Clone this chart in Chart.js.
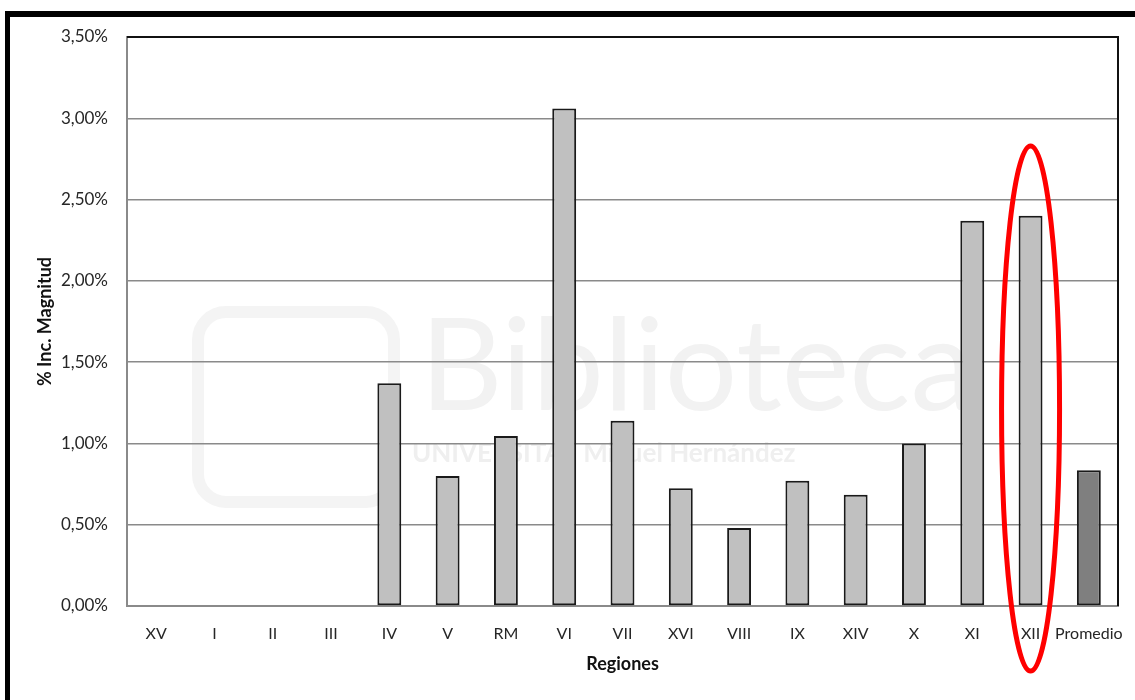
<!DOCTYPE html>
<html><head><meta charset="utf-8">
<script src="https://cdn.jsdelivr.net/npm/chart.js@4.4.1/dist/chart.umd.min.js"></script>
<style>html,body{margin:0;padding:0;background:#fff;}#wrap{width:1135px;height:700px;position:relative;}</style>
</head><body><div id="wrap"><canvas id="c" width="1135" height="700"></canvas></div>
<script>
const categories = ['XV','I','II','III','IV','V','RM','VI','VII','XVI','VIII','IX','XIV','X','XI','XII','Promedio'];
const incMagnitud = [0,0,0,0,1.37,0.80,1.045,3.06,1.14,0.725,0.48,0.77,0.685,1.0,2.37,2.40,0.835];
const barColors = ['#c0c0c0','#c0c0c0','#c0c0c0','#c0c0c0','#c0c0c0','#c0c0c0','#c0c0c0','#c0c0c0','#c0c0c0','#c0c0c0','#c0c0c0','#c0c0c0','#c0c0c0','#c0c0c0','#c0c0c0','#c0c0c0','#7f7f7f'];
const yMin = 0, yMax = 3.5, yStep = 0.5;
const highlightCategory = 'XII';
const highlightTop = 2.83, highlightBottom = -0.40;
const FONT = 'Lato, "Open Sans", sans-serif';

const decorPlugin = {
  id: 'decor',
  beforeDraw(chart) {
    const ctx = chart.ctx;
    ctx.save();
    ctx.fillStyle = '#fff';
    ctx.fillRect(0, 0, chart.width, chart.height);
    // faint watermark
    ctx.fillStyle = '#f2f2f2';
    ctx.font = '128px ' + FONT;
    ctx.textBaseline = 'alphabetic';
    ctx.textAlign = 'left';
    ctx.fillText('Biblioteca', 420, 410);
    ctx.fillStyle = '#efefef';
    ctx.font = 'bold 26px ' + FONT;
    ctx.fillText('UNIVERSITAS Miguel Hernández', 412, 462);
    ctx.strokeStyle = '#f4f4f4';
    ctx.lineWidth = 12;
    ctx.beginPath();
    ctx.roundRect(198, 312, 196, 190, 28);
    ctx.stroke();
    ctx.restore();
  },
  afterDraw(chart) {
    const ctx = chart.ctx;
    const a = chart.chartArea;
    ctx.save();
    // outer frame (cropped)
    ctx.fillStyle = '#000';
    ctx.fillRect(5, 11, 5, 700);
    ctx.fillRect(5, 11, 1135, 6);
    // plot area top/right border
    ctx.strokeStyle = '#111';
    ctx.lineWidth = 2;
    ctx.beginPath();
    ctx.moveTo(a.left, a.top);
    ctx.lineTo(a.right, a.top);
    ctx.lineTo(a.right, a.bottom);
    ctx.stroke();
    // highlight ellipse
    const xs = chart.scales.x, ys = chart.scales.y;
    const cx = xs.getPixelForValue(categories.indexOf(highlightCategory));
    const yt = ys.getPixelForValue(highlightTop), yb = ys.getPixelForValue(highlightBottom);
    ctx.strokeStyle = '#ff0000';
    ctx.lineWidth = 5;
    ctx.beginPath();
    ctx.ellipse(cx, (yt + yb) / 2, 29, (yb - yt) / 2, 0, 0, Math.PI * 2);
    ctx.stroke();
    ctx.restore();
  }
};

new Chart(document.getElementById('c'), {
  type: 'bar',
  data: {
    labels: categories,
    datasets: [{
      data: incMagnitud,
      backgroundColor: barColors,
      borderColor: '#1a1a1a',
      borderWidth: ctx => (ctx.raw ? 2 : 0),
      borderSkipped: false,
      barPercentage: 0.41,
      categoryPercentage: 1.0
    }]
  },
  options: {
    responsive: false,
    animation: false,
    devicePixelRatio: 1,
    layout: { padding: { left: 10, right: 17, top: 37, bottom: 0 } },
    plugins: { legend: { display: false }, tooltip: { enabled: false } },
    scales: {
      x: {
        grid: { display: false, drawTicks: false },
        border: { display: true, color: '#8a8a8a', width: 2 },
        ticks: { color: '#262626', font: { family: FONT, size: 16 }, padding: 18, maxRotation: 0, autoSkip: false },
        title: { display: true, text: 'Regiones', color: '#111', font: { family: FONT, size: 18, weight: 'bold' }, padding: { top: 0, bottom: 25 } },
        afterFit(s) { s.height = 94; s.paddingLeft = 0; s.paddingRight = 0; }
      },
      y: {
        min: yMin, max: yMax,
        grid: { color: '#8a8a8a', lineWidth: 1.5, drawTicks: false },
        border: { display: true, color: '#8a8a8a', width: 2 },
        ticks: {
          stepSize: yStep, color: '#262626', padding: 19,
          font: { family: FONT, size: 17 },
          callback: v => v.toFixed(2).replace('.', ',') + '%'
        },
        title: { display: true, text: '% Inc. Magnitud', color: '#111', font: { family: FONT, size: 18, weight: 'bold' }, padding: { top: 24, bottom: 0 } },
        afterFit(s) { s.width = 117; s.paddingTop = 0; s.paddingBottom = 0; }
      }
    }
  },
  plugins: [decorPlugin]
});
</script></body></html>
